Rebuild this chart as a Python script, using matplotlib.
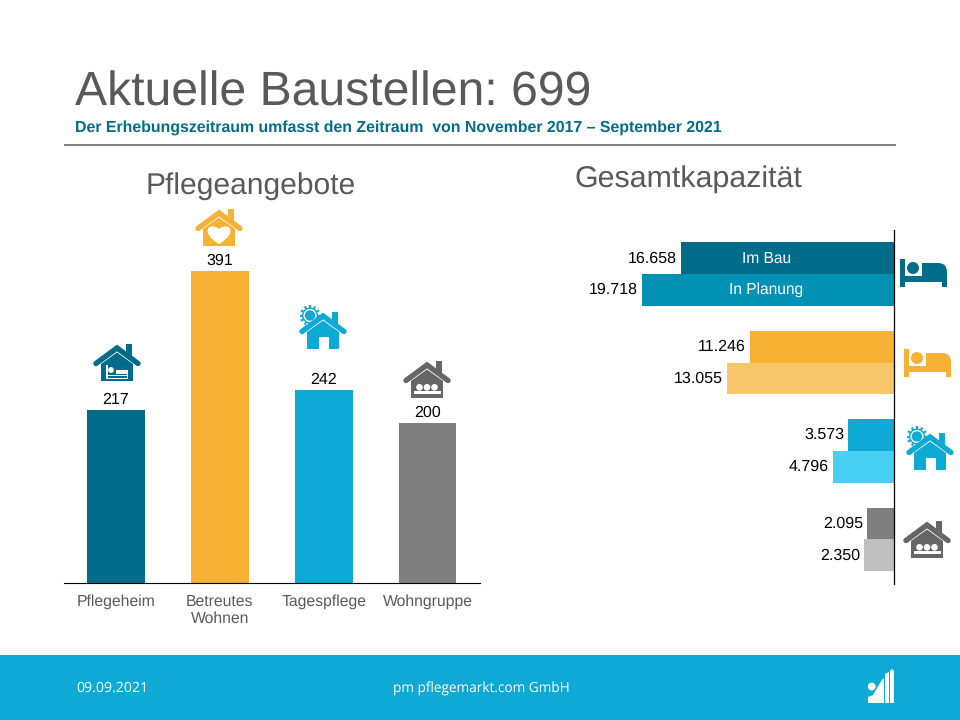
import matplotlib
matplotlib.use("Agg")
import matplotlib.pyplot as plt
from matplotlib.patches import Polygon, Circle, Rectangle, PathPatch
from matplotlib.path import Path
import numpy as np

plt.rcParams['font.family'] = ['Liberation Sans', 'DejaVu Sans']
plt.rcParams['text.hinting'] = 'no_hinting'

# ---- data ----
angebote = ["Pflegeheim", "Betreutes\nWohnen", "Tagespflege", "Wohngruppe"]
baustellen = [217, 391, 242, 200]
baustellen_colors = ["#006C8A", "#F7B133", "#0EA9D4", "#7F7F7F"]

im_bau = [16658, 11246, 3573, 2095]
in_planung = [19718, 13055, 4796, 2350]
im_bau_labels = ["16.658", "11.246", "3.573", "2.095"]
in_planung_labels = ["19.718", "13.055", "4.796", "2.350"]
im_bau_colors = ["#006C8A", "#F7B133", "#0EA9D4", "#7F7F7F"]
in_planung_colors = ["#0091B5", "#F9C76B", "#47CFF4", "#BFBFBF"]

TEAL, ORANGE, BLUE, GREY = "#006C8A", "#F7B133", "#0EA9D4", "#666666"
TXT = "#595959"

W, H = 960, 720
fig = plt.figure(figsize=(W / 100, H / 100), dpi=100, facecolor="white")


def axes_px(l, t, r, b, **kw):
    return fig.add_axes([l / W, 1 - b / H, (r - l) / W, (b - t) / H], **kw)


# ---- overlay in pixel coordinates (decoration: footer, rule, icons) ----
ov = axes_px(0, 0, W, H, zorder=5)
ov.set_xlim(0, W)
ov.set_ylim(H, 0)
ov.axis("off")
ov.patch.set_alpha(0)

ov.add_patch(Rectangle((0, 655), W, 65, fc=BLUE, ec="none"))
ov.plot([64, 896], [145, 145], color="#7F7F7F", lw=1.4, solid_capstyle="butt")


def house(cx, top, color, glyph):
    ov.add_patch(Polygon([(cx + 9, top - 1), (cx + 15, top - 1), (cx + 15, top + 12), (cx + 9, top + 7)], fc=color, ec="none"))
    ov.plot([cx - 21, cx, cx + 21], [top + 18.5, top + 3, top + 18.5], color=color, lw=3.9,
            solid_joinstyle="miter", solid_capstyle="round")
    ov.add_patch(Polygon([(cx - 16, top + 19), (cx, top + 7.5), (cx + 16, top + 19), (cx + 16, top + 36), (cx - 16, top + 36)],
                         fc=color, ec="none"))
    if glyph == "bed":
        x0, y0 = cx - 11, top + 20
        ov.add_patch(Rectangle((x0, y0), 1.8, 14, fc="white", ec="none"))
        ov.add_patch(Circle((x0 + 5, y0 + 5), 2.9, fc="white", ec="none"))
        ov.add_patch(Rectangle((x0 + 9.5, y0 + 4.5), 11, 4.5, fc="white", ec="none"))
        ov.add_patch(Rectangle((x0, y0 + 9.5), 22, 1.8, fc="white", ec="none"))
        ov.add_patch(Rectangle((x0 + 20.5, y0 + 4.5), 1.8, 9.5, fc="white", ec="none"))
        ov.add_patch(Rectangle((x0, y0 + 12.5), 22, 1.5, fc="white", ec="none"))
    elif glyph == "heart":
        s = 12
        verts = [(cx, top + 34), (cx - s * 1.6, top + 23), (cx - s * 0.9, top + 11), (cx, top + 19),
                 (cx + s * 0.9, top + 11), (cx + s * 1.6, top + 23), (cx, top + 34)]
        codes = [Path.MOVETO, Path.CURVE4, Path.CURVE4, Path.CURVE4, Path.CURVE4, Path.CURVE4, Path.CURVE4]
        ov.add_patch(PathPatch(Path(verts, codes), fc="white", ec="none"))
    elif glyph == "sun":
        ov.add_patch(Rectangle((cx - 4, top + 24), 10, 12.5, fc="white", ec="none"))
        sx, sy = cx - 13, top + 2.5
        for a in np.deg2rad(np.arange(0, 360, 30)):
            ov.plot([sx + 7 * np.cos(a), sx + 10.5 * np.cos(a)], [sy + 7 * np.sin(a), sy + 10.5 * np.sin(a)],
                    color=color, lw=1.5, solid_capstyle="butt")
        ov.add_patch(Circle((sx, sy), 8, fc=color, ec="none"))
        ov.add_patch(Circle((sx, sy), 6.6, fc="white", ec="none"))
        ov.add_patch(Circle((sx, sy), 5.2, fc=color, ec="none"))
    elif glyph == "group":
        for dx in (-7.5, 0, 7.5):
            ov.add_patch(Circle((cx + dx, top + 25.3), 3.3, fc="white", ec="none"))
        ov.add_patch(Rectangle((cx - 13.5, top + 29), 27, 3.2, fc="white", ec="none"))


def bed(x0, y0, color):
    ov.add_patch(Rectangle((x0, y0), 5, 28, fc=color, ec="none"))
    ov.add_patch(Rectangle((x0, y0 + 16.5), 47, 6.5, fc=color, ec="none"))
    ov.add_patch(Rectangle((x0 + 42, y0 + 20), 5, 8, fc=color, ec="none"))
    ov.add_patch(Circle((x0 + 13, y0 + 9), 6, fc=color, ec="none"))
    verts = [(x0 + 22, y0 + 20), (x0 + 22, y0 + 4), (x0 + 38, y0 + 4), (x0 + 47, y0 + 4), (x0 + 47, y0 + 13), (x0 + 47, y0 + 20), (x0 + 22, y0 + 20)]
    codes = [Path.MOVETO, Path.LINETO, Path.LINETO, Path.CURVE3, Path.CURVE3, Path.LINETO, Path.CLOSEPOLY]
    ov.add_patch(PathPatch(Path(verts, codes), fc=color, ec="none"))


house(117, 345, TEAL, "bed")
house(219, 210, ORANGE, "heart")
house(323, 313, BLUE, "sun")
house(427, 362, GREY, "group")
bed(900, 259, TEAL)
bed(904, 349, ORANGE)
house(930, 434, BLUE, "sun")
house(927, 522, GREY, "group")

# ---- texts ----
fig.text(75 / W, 1 - 93 / H, "Aktuelle Baustellen: 699", fontsize=34.7, color=TXT, va="center", ha="left")
fig.text(75 / W, 1 - 127.5 / H, "Der Erhebungszeitraum umfasst den Zeitraum  von November 2017 – September 2021",
         fontsize=11.4, fontweight="bold", color=TEAL, va="center", ha="left")
fig.text(251 / W, 1 - 186 / H, "Pflegeangebote", fontsize=21.6, color=TXT, va="center", ha="center")
fig.text(688 / W, 1 - 179.5 / H, "Gesamtkapazität", fontsize=21.9, color=TXT, va="center", ha="center")
ov.text(76, 688, "09.09.2021", fontsize=10.2, color="white", family="Open Sans", va="center", ha="left")
ov.text(481, 689, "pm pflegemarkt.com GmbH", fontsize=9.8, color="white", family="Open Sans", va="center", ha="center")

# footer logo
ov.add_patch(Circle((871.7, 686.5), 3.9, fc="white", ec="none"))
ov.add_patch(Polygon([(868, 703), (868, 697), (873, 695), (877, 688), (882, 680), (884, 678), (884, 703)], fc="white", ec="none"))
ov.add_patch(Polygon([(885, 703), (885, 674), (889, 672), (889, 703)], fc="white", ec="none"))
ov.add_patch(Polygon([(890, 703), (890, 671), (892, 669), (894, 671), (894, 703)], fc="white", ec="none"))

# ---- left chart ----
ax = axes_px(64, 200, 479.5, 583)
x = np.arange(len(angebote))
bars = ax.bar(x, baustellen, width=0.557, color=baustellen_colors)
ax.set_xlim(-0.5, 3.5)
ax.set_ylim(0, 480)
ax.set_yticks([])
ax.set_xticks(x, angebote, fontsize=11.3, color=TXT, linespacing=1.22)
ax.tick_params(axis="x", length=0, pad=8)
for s in ("top", "left", "right"):
    ax.spines[s].set_visible(False)
ax.spines["bottom"].set_linewidth(0.8)
ax.spines["bottom"].set_color("black")
ax.patch.set_alpha(0)
for xi, v in zip(x, baustellen):
    ax.annotate(str(v), (xi, v), xytext=(0, 2), textcoords="offset points", ha="center", va="bottom",
                fontsize=11.5, color="black")

# ---- right chart ----
ax2 = axes_px(560, 230, 894, 583.6)
y = np.arange(len(im_bau))
ax2.barh(y - 0.18, im_bau, height=0.36, color=im_bau_colors)
ax2.barh(y + 0.18, in_planung, height=0.36, color=in_planung_colors)
ax2.set_xlim(26135, 0)
ax2.set_ylim(3.5, -0.5)
ax2.set_xticks([])
ax2.set_yticks([])
for s in ("top", "left", "bottom"):
    ax2.spines[s].set_visible(False)
ax2.spines["right"].set_linewidth(0.9)
ax2.spines["right"].set_color("black")
ax2.patch.set_alpha(0)
for yi, a, b, la, lb in zip(y, im_bau, in_planung, im_bau_labels, in_planung_labels):
    ax2.annotate(la, (a, yi - 0.18), xytext=(-3, 0), textcoords="offset points", ha="right", va="center",
                 fontsize=11.5, color="black")
    ax2.annotate(lb, (b, yi + 0.18), xytext=(-3, 0), textcoords="offset points", ha="right", va="center",
                 fontsize=11.5, color="black")
ax2.text(10000, -0.17, "Im Bau", color="white", fontsize=11.2, ha="center", va="center")
ax2.text(10000, 0.17, "In Planung", color="white", fontsize=11.2, ha="center", va="center")

fig.savefig("out.png", dpi=100)
